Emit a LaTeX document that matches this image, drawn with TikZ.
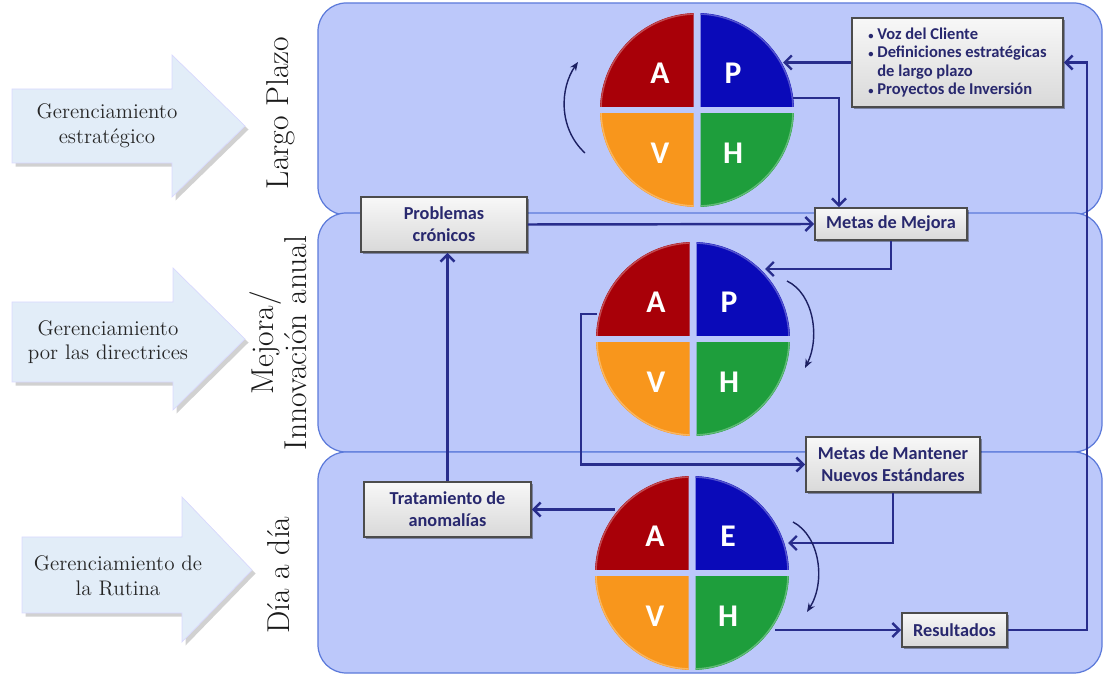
\documentclass[tikz,border=0pt]{standalone}
\usepackage{fontspec}
\newfontfamily\carlito{Carlito}
\usetikzlibrary{arrows.meta,shadows,calc}

\definecolor{bandfill}{RGB}{188,200,250}
\definecolor{bandedge}{RGB}{92,122,218}
\definecolor{navy}{RGB}{40,45,140}
\definecolor{boxtext}{RGB}{40,40,110}
\definecolor{qA}{RGB}{168,0,8}
\definecolor{qP}{RGB}{10,10,185}
\definecolor{qV}{RGB}{248,150,28}
\definecolor{qH}{RGB}{30,158,60}
\definecolor{arrowfill}{RGB}{226,237,248}

% One PDCA wheel: #1 centre, #2 name prefix, #3 letter of the upper right quadrant
\newcommand\pdcawheel[3]{%
  \begin{scope}[shift={#1}]
    \foreach \qx/\qy/\col in {-1/-1/qA, 1/-1/qP, -1/1/qV, 1/1/qH}{%
      \begin{scope}
        \clip (3.5*\qx,3.5*\qy) rectangle (110*\qx,110*\qy);
        \fill[\col] (0,0) circle (97);
        \draw[\col!70!white, line width=0.8pt] (0,0) circle (96);
      \end{scope}
    }
    \node[letter] (#2A) at (-37,-37) {A};
    \node[letter] (#2P) at (36,-37) {#3};
    \node[letter] (#2V) at (-37,43) {V};
    \node[letter] (#2H) at (36,43) {H};
  \end{scope}}

\newcommand\smallbullet{{\fontsize{6}{6}\selectfont\textbullet}\ }

\begin{document}
\begin{tikzpicture}[x=0.02cm,y=-0.02cm,
  band/.style={draw=bandedge, line width=0.7pt, fill=bandfill, rounded corners=16pt},
  levelarrow/.style={fill=arrowfill, draw=white!85!blue, line width=0.4pt,
    drop shadow={shadow xshift=2pt, shadow yshift=-2pt, opacity=0.3, fill=black!60}},
  leveltext/.style={font=\fontsize{12}{14}\selectfont, text=black!85, align=center},
  horizon/.style={rotate=90, font=\fontsize{18}{19}\selectfont, align=center, text=black!90},
  letter/.style={font=\carlito\bfseries\fontsize{18}{18}\selectfont, text=white},
  gbox/.style={draw=black!70, line width=1pt, top color=gray!6, bottom color=gray!30,
    font=\carlito\bfseries\fontsize{10.4}{12.5}\selectfont, text=boxtext, align=center,
    inner sep=0pt,
    drop shadow={shadow xshift=1.2pt, shadow yshift=-1.2pt, opacity=0.35, fill=black}},
  conn/.style={draw=navy, line width=1.4pt, -{Straight Barb[length=4pt,width=8pt]}},
  rot/.style={draw=navy!70!black, line width=0.8pt, -{Stealth[length=5pt,width=4pt]}}]

\useasboundingbox (0,0) rectangle (1103,675);

% horizon bands
\path[band] (318,3) rectangle (1102,215);
\path[band] (318,213) rectangle (1102,452);
\path[band] (318,452) rectangle (1102,673);

% management level arrows
\path[levelarrow] (12,89) -- (172,89) -- (172,55) -- (245,126) -- (172,197) -- (172,163) -- (12,163) -- cycle;
\path[levelarrow] (12,302) -- (173,302) -- (173,268) -- (245,339) -- (173,410) -- (173,382) -- (12,382) -- cycle;
\path[levelarrow] (22,537) -- (182,537) -- (182,497) -- (252,570) -- (182,642) -- (182,613) -- (22,613) -- cycle;
\node[leveltext] (g1) at (107,126) {Gerenciamiento\\estratégico};
\node[leveltext] (g2) at (108,342) {Gerenciamiento\\por las directrices};
\node[leveltext] (g3) at (118,576) {Gerenciamiento de\\la Rutina};

% time horizons
\node[horizon] (h1) at (281,113) {Largo Plazo};
\node[horizon] (h2) at (278,343) {Mejora/\\Innovación anual};
\node[horizon] (h3) at (279,575) {Día a día};

% PDCA / SDCA wheels
\pdcawheel{(697,110)}{wa}{P}
\pdcawheel{(693,339)}{wb}{P}
\pdcawheel{(692,573)}{wc}{E}

% boxes
\node[gbox, minimum width=4.22cm, minimum height=1.78cm,
  font=\carlito\bfseries\fontsize{9.4}{10.3}\selectfont, align=left] (voz) at (957.5,62.5)
  {\smallbullet Voz del Cliente\\
   \smallbullet Definiciones estratégicas\\
   \phantom{\smallbullet}de largo plazo\\
   \smallbullet Proyectos de Inversión};
\node[gbox, minimum width=3.04cm, minimum height=0.64cm] (mejora) at (891,224) {Metas de Mejora};
\node[gbox, minimum width=3.32cm, minimum height=1.10cm] (problemas) at (444,224.5) {Problemas\\crónicos};
\node[gbox, minimum width=3.48cm, minimum height=1.10cm] (mantener) at (893,464.5) {Metas de Mantener\\Nuevos Estándares};
\node[gbox, minimum width=3.34cm, minimum height=1.10cm] (trat) at (447.5,509.5) {Tratamiento de\\anomalías};
\node[gbox, minimum width=2.10cm, minimum height=0.68cm] (resultados) at (954.5,630) {Resultados};

% points on the wheels where the flow lines meet them
\coordinate (w1in) at (783,62.5);
\coordinate (w1out) at (793,98);
\coordinate (w1drop) at (839,98);
\coordinate (w2in) at (765,269);
\coordinate (w2out) at (597,314);
\coordinate (w2turn) at (581,314);
\coordinate (w3in) at (788,543);
\coordinate (w3a) at (615,509.5);
\coordinate (w3h) at (775,630);
\coordinate (back) at (1087,630);

% flow lines
\draw[conn] (voz.west) -- (w1in);
\draw[conn] (w1out) -- (w1drop) -- (w1drop |- mejora.north);
\draw[conn] (problemas.east) -- (mejora.west);
\draw[conn] (mejora.south) |- (w2in);
\draw[conn] (w2out) -- (w2turn) |- (mantener.west);
\draw[conn] (mantener.south) |- (w3in);
\draw[conn] (w3a) -- (trat.east);
\draw[conn] (trat.north) -- (trat.north |- problemas.south);
\draw[conn] (w3h) -- (resultados.west);
\draw[conn] (resultados.east) -- (back) |- (voz.east);

% turning direction of each wheel
\coordinate (r1s) at (585,153); \coordinate (r1e) at (578,62);
\coordinate (r2s) at (787,281); \coordinate (r2e) at (805,368);
\coordinate (r3s) at (793,522); \coordinate (r3e) at (807,612);
\draw[rot] (r1s) .. controls (558,128) and (560,88) .. (r1e);
\draw[rot] (r2s) .. controls (814,294) and (820,338) .. (r2e);
\draw[rot] (r3s) .. controls (820,536) and (826,582) .. (r3e);

\end{tikzpicture}
\end{document}
